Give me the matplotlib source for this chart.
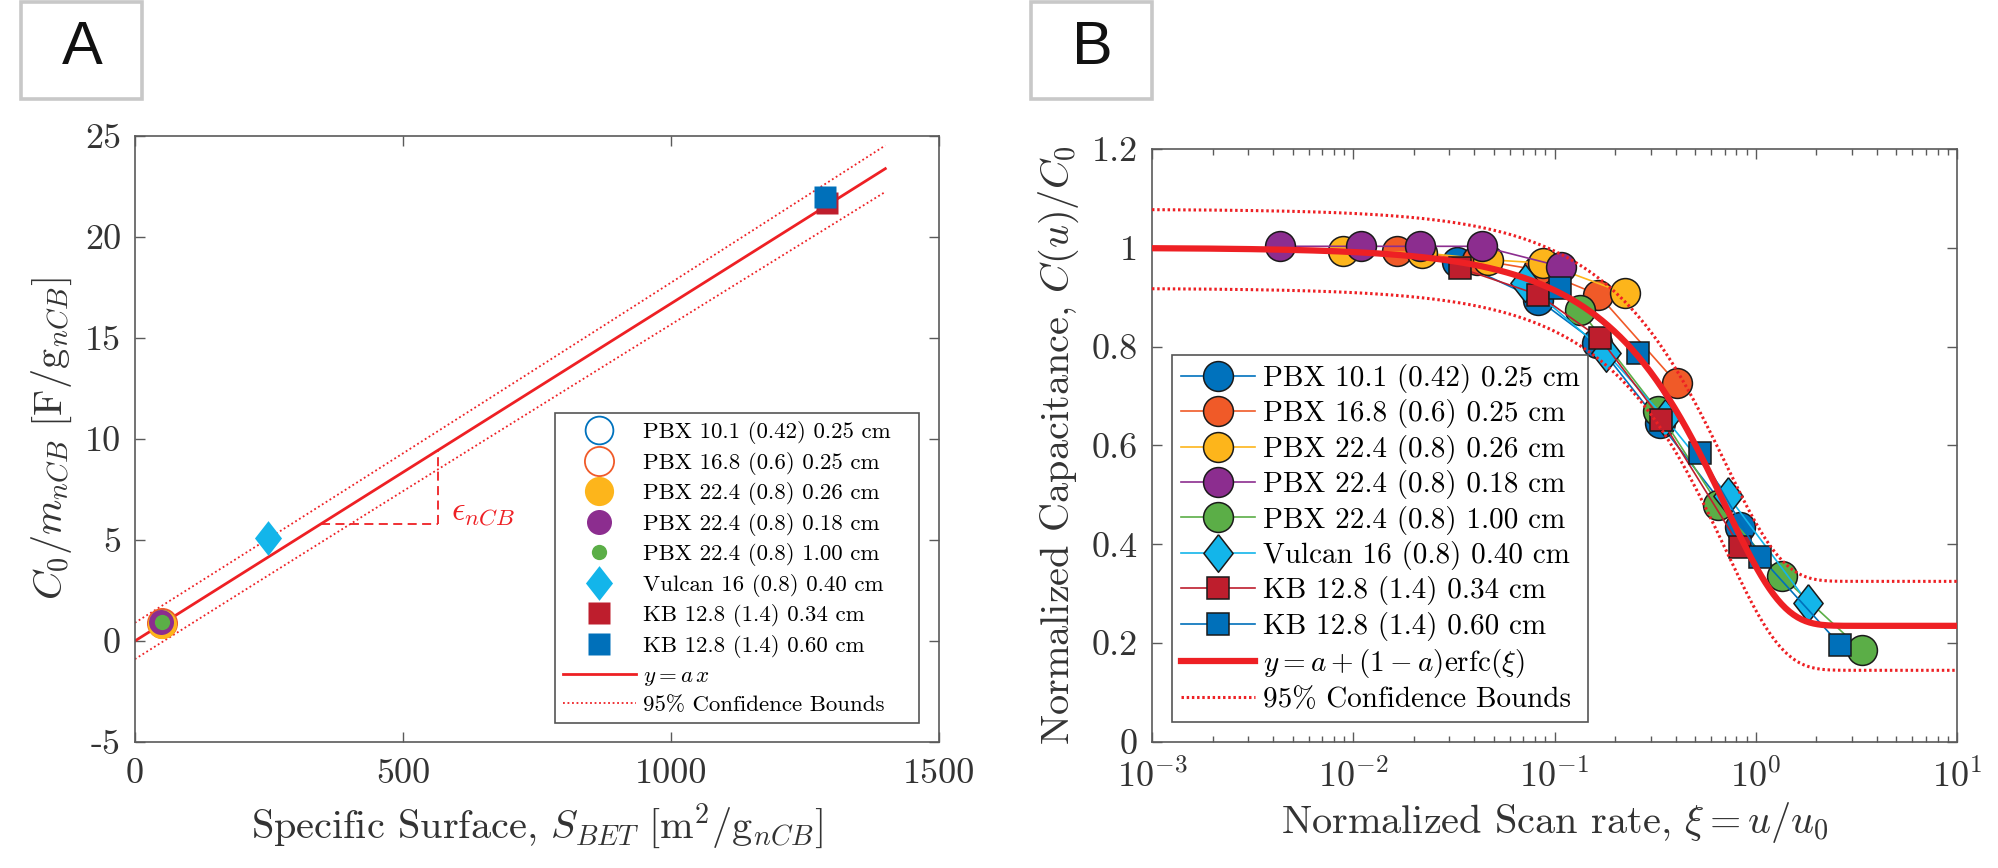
import numpy as np
import matplotlib
matplotlib.use('Agg')
import matplotlib.pyplot as plt
from matplotlib.patches import Rectangle
from matplotlib.ticker import FuncFormatter, LogLocator, NullFormatter
from math import erfc, log10

plt.rcParams['font.family'] = ['cmr10', 'DejaVu Serif']
plt.rcParams['mathtext.fontset'] = 'cm'
plt.rcParams['axes.formatter.use_mathtext'] = True
plt.rcParams['axes.unicode_minus'] = False

# ---------------- Panel A data ----------------
a_labels = ['PBX 10.1 (0.42) 0.25 cm', 'PBX 16.8 (0.6) 0.25 cm', 'PBX 22.4 (0.8) 0.26 cm',
            'PBX 22.4 (0.8) 0.18 cm', 'PBX 22.4 (0.8) 1.00 cm', 'Vulcan 16 (0.8) 0.40 cm',
            'KB 12.8 (1.4) 0.34 cm', 'KB 12.8 (1.4) 0.60 cm']
a_sbet = [50, 50, 51, 49, 50, 248, 1292, 1288]
a_c0m = [0.90, 0.90, 0.86, 0.94, 0.92, 5.1, 21.7, 22.0]
a_slope = 0.0167          # fitted slope a of y = a x
a_band0 = 0.9             # confidence half-width at x = 0
a_band1 = 0.00051         # slope contribution to half-width
a_fit_x = [0, 1400]
eps_y0 = 5.8
eps_x2 = 565

# ---------------- Panel B data ----------------
b_labels = a_labels
b_xi = [
    [0.0327, 0.083, 0.162, 0.333, 0.836],
    [0.0164, 0.041, 0.083, 0.165, 0.405],
    [0.0089, 0.022, 0.0466, 0.088, 0.224],
    [0.0043, 0.0109, 0.0215, 0.0434, 0.108],
    [0.134, 0.328, 0.652, 1.35, 3.36],
    [0.0713, 0.181, 0.355, 0.731, 1.82],
    [0.0339, 0.083, 0.168, 0.340, 0.836],
    [0.106, 0.261, 0.529, 1.05, 2.63],
]
b_c = [
    [0.972, 0.895, 0.807, 0.645, 0.436],
    [0.993, 0.976, 0.955, 0.905, 0.726],
    [0.993, 0.990, 0.976, 0.969, 0.908],
    [1.003, 1.003, 1.003, 1.003, 0.962],
    [0.874, 0.669, 0.480, 0.335, 0.186],
    [0.929, 0.787, 0.655, 0.497, 0.281],
    [0.959, 0.905, 0.817, 0.652, 0.395],
    [0.918, 0.787, 0.584, 0.375, 0.196],
]
b_a = 0.235               # fitted parameter a
b_up_left, b_up_right = 0.078, 0.090
b_lo_left, b_lo_right = 0.082, 0.090

colors = ['#0072BD', '#F05A28', '#FDB51B', '#8C2D8F', '#5BAE47', '#13B5EA', '#BE1E2D', '#0070BA']
fit_red = '#EE2024'
diamond = [(0, 1), (0.78, 0), (0, -1), (-0.78, 0), (0, 1)]

fig = plt.figure(figsize=(19.99, 8.68), dpi=100)

# label boxes
for (bx, tx, letter) in [(21, 82, 'A'), (1031, 1092, 'B')]:
    fig.patches.append(Rectangle((bx / 1999, (868 - 99) / 868), 121 / 1999, 97 / 868,
                                 transform=fig.transFigure, fill=True, facecolor='white',
                                 edgecolor='#c8c8c8', lw=2.6, zorder=0))
    fig.text(tx / 1999, 1 - 48 / 868, letter, family='Liberation Sans', fontsize=44,
             ha='center', va='center', color='#111111')

spine_c = '#5a5a5a'
tick_lc = '#333333'

def style(ax):
    for s in ax.spines.values():
        s.set_color(spine_c)
        s.set_linewidth(1.2)
    ax.tick_params(which='both', direction='in', top=True, right=True, color=spine_c,
                   labelcolor=tick_lc, labelsize=26, width=1.0)
    ax.tick_params(which='major', length=7)
    ax.tick_params(which='minor', length=4)

# ---------------- Panel A ----------------
axA = fig.add_axes([0.0675, 0.1452, 0.4022, 0.6982])
style(axA)
axA.tick_params(axis='x', pad=12)
axA.tick_params(axis='y', pad=10)
mk = [dict(marker='o', ms=20, mfc='none', mec=colors[0], mew=1.3),
      dict(marker='o', ms=21, mfc='none', mec=colors[1], mew=1.3),
      dict(marker='o', ms=21, mfc=colors[2], mec='none'),
      dict(marker='o', ms=18, mfc=colors[3], mec='none'),
      dict(marker='o', ms=11, mfc=colors[4], mec='none'),
      dict(marker=diamond, ms=25, mfc=colors[5], mec='none'),
      dict(marker='s', ms=16, mfc=colors[6], mec='none'),
      dict(marker='s', ms=16, mfc=colors[7], mec='none')]
for i in range(8):
    axA.plot([a_sbet[i]], [a_c0m[i]], ls='none', label=a_labels[i], zorder=3, **mk[i])
xf = np.linspace(a_fit_x[0], a_fit_x[1], 200)
yf = a_slope * xf
hw = np.sqrt(a_band0 ** 2 + (a_band1 * xf) ** 2)
axA.plot(xf, yf, color=fit_red, lw=2.0, label=r'$y = a\,x$', zorder=2)
axA.plot(xf, yf + hw, color=fit_red, lw=1.3, ls=(0, (1, 1.5)), label='95% Confidence Bounds', zorder=2)
axA.plot(xf, yf - hw, color=fit_red, lw=1.3, ls=(0, (1, 1.5)), zorder=2)
axA.plot([eps_y0 / a_slope, eps_x2], [eps_y0, eps_y0], color=fit_red, lw=1.3, ls=(0, (5, 3)))
axA.plot([eps_x2, eps_x2], [eps_y0, a_slope * eps_x2], color=fit_red, lw=1.3, ls=(0, (5, 3)))
axA.text(eps_x2 + 25, eps_y0 + 0.5, r'$\epsilon_{nCB}$', color=fit_red, fontsize=24,
         ha='left', va='center')
axA.set_xlim(0, 1500)
axA.set_ylim(-5, 25)
axA.set_xticks([0, 500, 1000, 1500])
axA.set_yticks([-5, 0, 5, 10, 15, 20, 25])
axA.xaxis.set_major_formatter(FuncFormatter(lambda v, p: '%d' % v))
axA.yaxis.set_major_formatter(FuncFormatter(lambda v, p: '%d' % v))
axA.set_xlabel(r'Specific Surface, $S_{BET}\ [\mathrm{m}^2/\mathrm{g}_{nCB}]$', fontsize=29,
               color='#333333', labelpad=8)
axA.set_ylabel(r'$C_0/m_{nCB}\ [\mathrm{F}/\mathrm{g}_{nCB}]$', fontsize=29, color='#333333',
               labelpad=8)
legA = axA.legend(loc='lower left', bbox_to_anchor=(0.522, 0.031, 0.453, 0.523), mode='expand',
                  fontsize=16.5, frameon=True, fancybox=False, framealpha=1, edgecolor='#555555',
                  handlelength=3.2, handletextpad=0.3, labelspacing=0.33, borderpad=0.35,
                  borderaxespad=0, numpoints=1)
legA.get_frame().set_linewidth(1.2)

# ---------------- Panel B ----------------
axB = fig.add_axes([0.5763, 0.1452, 0.4027, 0.6832])
style(axB)
axB.tick_params(axis='x', pad=12)
axB.tick_params(axis='y', pad=10)
axB.set_xscale('log')
mkB = ['o', 'o', 'o', 'o', 'o', diamond, 's', 's']
msB = [21.5, 21.5, 21.5, 21.5, 21.5, 27, 16.5, 16.5]
for i in range(8):
    axB.plot(b_xi[i], b_c[i], color=colors[i], lw=1.2, marker=mkB[i], ms=msB[i],
             mfc=colors[i], mec='#1a1a1a', mew=1.1, label=b_labels[i], zorder=3 + i * 0.01)
xg = np.logspace(-3, 1, 400)
w = np.array([erfc(v) for v in xg])
yfit = b_a + (1 - b_a) * w
up = yfit + b_up_right + (b_up_left - b_up_right) * w
lo = yfit - (b_lo_right + (b_lo_left - b_lo_right) * w)
axB.plot(xg, yfit, color=fit_red, lw=4.5, label=r'$y = a + (1-a)\mathrm{erfc}(\xi)$', zorder=5)
axB.plot(xg, up, color=fit_red, lw=2.2, ls=(0, (0.8, 0.9)), label='95% Confidence Bounds', zorder=5)
axB.plot(xg, lo, color=fit_red, lw=2.2, ls=(0, (0.8, 0.9)), zorder=5)
axB.set_xlim(1e-3, 10)
axB.set_ylim(0, 1.2)
axB.set_yticks([0, 0.2, 0.4, 0.6, 0.8, 1.0, 1.2])
axB.yaxis.set_major_formatter(FuncFormatter(lambda v, p: '%g' % round(v, 2)))
axB.xaxis.set_major_locator(LogLocator(base=10, numticks=10))
axB.xaxis.set_minor_locator(LogLocator(base=10, subs=np.arange(2, 10), numticks=20))
axB.xaxis.set_minor_formatter(NullFormatter())
axB.xaxis.set_major_formatter(FuncFormatter(lambda v, p: r'$\mathrm{10^{%d}}$' % round(log10(v))))
axB.set_xlabel(r'Normalized Scan rate, $\xi = u/u_0$', fontsize=29, color='#333333', labelpad=4)
axB.set_ylabel(r'Normalized Capacitance, $C(u)/C_0$', fontsize=29, color='#333333', labelpad=8)
legB = axB.legend(loc='lower left', bbox_to_anchor=(0.025, 0.034, 0.517, 0.627), mode='expand',
                  fontsize=21, frameon=True, fancybox=False, framealpha=1, edgecolor='#555555',
                  handlelength=2.55, handletextpad=0.25, labelspacing=0.22, borderpad=0.3,
                  borderaxespad=0, numpoints=1)
legB.get_frame().set_linewidth(1.2)

fig.savefig('out.png', dpi=100)
